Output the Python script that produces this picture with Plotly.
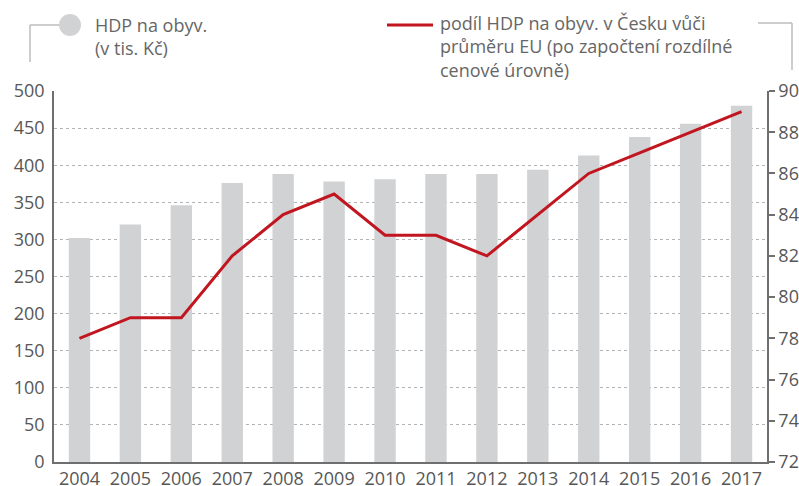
import plotly.graph_objects as go

years = ["2004", "2005", "2006", "2007", "2008", "2009", "2010",
         "2011", "2012", "2013", "2014", "2015", "2016", "2017"]
hdp_per_capita = [302, 320, 346, 376, 388, 378, 381, 388, 388, 394, 413, 438, 456, 480]
share_of_eu = [78, 79, 79, 82, 84, 85, 83, 83, 82, 84, 86, 87, 88, 89]

left_ticks = list(range(0, 501, 50))
right_ticks = list(range(72, 91, 2))

FONT = "Open Sans"
TXT = "#575757"
GRID = "#b3b3b3"
AX = "#6f6f6f"

fig = go.Figure()
fig.add_trace(go.Bar(x=years, y=hdp_per_capita, marker=dict(color="#d1d2d4", line=dict(width=0)),
                     width=0.42, showlegend=False, yaxis="y"))
fig.add_trace(go.Scatter(x=years, y=share_of_eu, mode="lines",
                         line=dict(color="#c1161f", width=3), showlegend=False, yaxis="y2"))

fig.update_layout(
    width=799, height=486,
    margin=dict(l=54, r=32, t=91, b=24, autoexpand=False),
    plot_bgcolor="white", paper_bgcolor="white",
    font=dict(family=FONT, color=TXT, size=18),
    xaxis=dict(type="category", range=[-0.5, 13.5], showgrid=False, automargin=False,
               showline=True, linecolor=AX, linewidth=1.5, ticks="",
               tickfont=dict(size=18, color=TXT), ticklabelstandoff=0),
    yaxis=dict(range=[0, 500], tickvals=left_ticks, showgrid=True, gridcolor=GRID,
               griddash="dot", gridwidth=1, showline=True, linecolor=AX, linewidth=1.5,
               ticks="", tickfont=dict(size=18, color=TXT), zeroline=False, automargin=False,
               ticklabelstandoff=4),
    yaxis2=dict(range=[72, 90], tickvals=right_ticks, overlaying="y", side="right",
                showgrid=False, showline=True, linecolor=AX, linewidth=1.5,
                ticks="outside", ticklen=6, tickcolor=AX, tickwidth=1.5, automargin=False,
                tickfont=dict(size=18, color=TXT), zeroline=False),
)

W, H = 799, 486
pl, pr, pt, pb = 54, 767, 91, 462


def px(x):
    return (x - pl) / (pr - pl)


def py(y):
    return (pb - y) / (pb - pt)


shapes = []
shapes.append(dict(type="line", xref="paper", yref="paper", x0=px(30), x1=px(30), y0=py(62), y1=py(25),
                   line=dict(color="#bdbdbd", width=1.5)))
shapes.append(dict(type="line", xref="paper", yref="paper", x0=px(30), x1=px(62), y0=py(25), y1=py(25),
                   line=dict(color="#bdbdbd", width=1.5)))
shapes.append(dict(type="circle", xref="paper", yref="paper", x0=px(59), x1=px(81), y0=py(14), y1=py(36),
                   fillcolor="#d1d2d4", line=dict(width=0)))
shapes.append(dict(type="line", xref="paper", yref="paper", x0=px(387), x1=px(433), y0=py(25), y1=py(25),
                   line=dict(color="#c1161f", width=3)))
shapes.append(dict(type="line", xref="paper", yref="paper", x0=px(758), x1=px(792), y0=py(23), y1=py(23),
                   line=dict(color="#bdbdbd", width=1.5)))
shapes.append(dict(type="line", xref="paper", yref="paper", x0=px(792), x1=px(792), y0=py(23), y1=py(70),
                   line=dict(color="#bdbdbd", width=1.5)))
fig.update_layout(shapes=shapes)

fig.add_annotation(xref="paper", yref="paper", x=px(93), y=py(11), xanchor="left", yanchor="top",
                   text="HDP na obyv.<br>(v tis. Kč)", showarrow=False, align="left",
                   font=dict(family=FONT, size=18, color="#666666"))
fig.add_annotation(xref="paper", yref="paper", x=px(438), y=py(9), xanchor="left", yanchor="top",
                   text="podíl HDP na obyv. v Česku vůči<br>průměru EU (po započtení rozdílné<br>cenové úrovně)",
                   showarrow=False, align="left",
                   font=dict(family=FONT, size=18, color="#666666"))

fig.write_html("out.html", config={"displayModeBar": False},
               post_script="document.body.style.margin='0px';document.body.style.overflow='hidden';")
